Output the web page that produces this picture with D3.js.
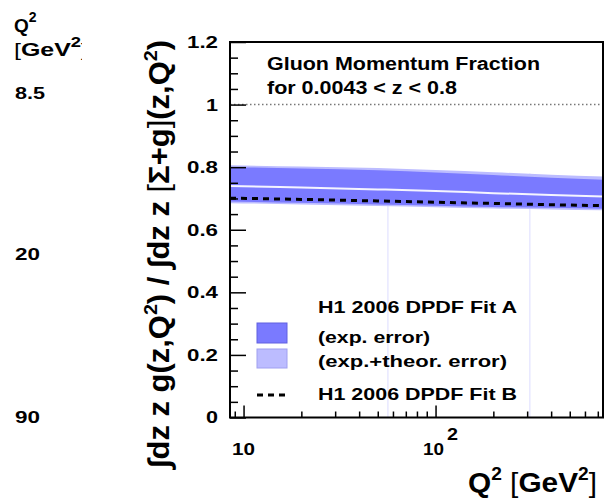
<!DOCTYPE html>
<html><head><meta charset="utf-8">
<script src="https://cdn.jsdelivr.net/npm/d3@7"></script>
<style>body{margin:0;background:#fff}svg{display:block}text{font-family:"Liberation Sans",Arial,sans-serif;font-weight:bold;fill:#000}</style>
</head><body><svg id="c" width="605" height="503"></svg>
<script>
// ---- data ----
const q2      = [8.5, 20, 50, 100, 200, 400, 745];
const outerHi = [0.806,0.802,0.797,0.791,0.784,0.776,0.770];
const innerHi = [0.800,0.796,0.790,0.783,0.775,0.766,0.760];
const central = [0.740,0.735,0.729,0.724,0.717,0.711,0.706];
const innerLo = [0.690,0.686,0.681,0.677,0.673,0.670,0.667];
const outerLo = [0.685,0.681,0.676,0.672,0.668,0.665,0.662];
const fitB    = [0.701,0.697,0.692,0.688,0.684,0.680,0.677];
const yMajor = [0,0.2,0.4,0.6,0.8,1.0,1.2];
const yMinor = [0.05,0.1,0.15,0.25,0.3,0.35,0.45,0.5,0.55,0.65,0.7,0.75,0.85,0.9,0.95,1.05,1.1,1.15];
const xMajor = [10,100];
const xMinor = [9,20,30,40,50,60,70,80,90,200,300,400,500,600,700];
const refQ2 = [56.5, 310];
const refTop = 0.78;
const unityLine = 1.0;
const binLabels = ["8.5","20","90"];
const legendLabels = ["H1 2006 DPDF Fit A","(exp. error)","(exp.+theor. error)","H1 2006 DPDF Fit B"];

// ---- helpers ----
function fitTo(sel, len){ sel.attr("textLength",len).attr("lengthAdjust","spacingAndGlyphs"); }
const digitLen = s => s.split("").reduce((a,c)=>a+(c==="."?7:12),0);

// ---- layout ----
const svg = d3.select("#c");
const L=230, R=603, T=42, B=417.5;
const x = d3.scaleLog().domain([8.5,745]).range([L,R]);
const y = d3.scaleLinear().domain([0,1.2]).range([B,T]);
const dark="#7a7aff", light="#bcbcff";

svg.append("rect").attr("width",605).attr("height",503).attr("fill","#fff");

const rows = q2.map((q,i)=>({q,oh:outerHi[i],ih:innerHi[i],c:central[i],il:innerLo[i],ol:outerLo[i],b:fitB[i]}));

// reference vertical lines
svg.selectAll("line.ref").data(refQ2).join("line").attr("class","ref")
  .attr("x1",d=>x(d)).attr("x2",d=>x(d)).attr("y1",y(0)).attr("y2",y(refTop))
  .attr("stroke","#dcdcff").attr("stroke-width",1);

// unity dotted line
svg.append("line").attr("x1",L).attr("x2",R).attr("y1",y(unityLine)).attr("y2",y(unityLine))
  .attr("stroke","#777").attr("stroke-width",1.5).attr("stroke-dasharray","1.5,2.5");

// bands
const areaO = d3.area().x(d=>x(d.q)).y0(d=>y(d.ol)).y1(d=>y(d.oh)).curve(d3.curveMonotoneX);
const areaI = d3.area().x(d=>x(d.q)).y0(d=>y(d.il)).y1(d=>y(d.ih)).curve(d3.curveMonotoneX);
svg.append("path").datum(rows).attr("d",areaO).attr("fill",light);
svg.append("path").datum(rows).attr("d",areaI).attr("fill",dark);
svg.append("path").datum(rows).attr("d",d3.line().x(d=>x(d.q)).y(d=>y(d.c)).curve(d3.curveMonotoneX))
  .attr("fill","none").attr("stroke","#f4f4ff").attr("stroke-width",2);
svg.append("path").datum(rows).attr("d",d3.line().x(d=>x(d.q)).y(d=>y(d.b)).curve(d3.curveMonotoneX))
  .attr("fill","none").attr("stroke","#000").attr("stroke-width",3).attr("stroke-dasharray","6,5");

// axes
const fmtY = d=>d===0?"0":d===1?"1":d3.format(".1f")(d);
const yAx = svg.append("g").attr("transform",`translate(${L},0)`)
  .call(d3.axisLeft(y).tickValues(yMajor).tickSize(-16).tickPadding(12).tickFormat(fmtY));
yAx.select(".domain").remove();
yAx.selectAll("line").attr("stroke","#000").attr("stroke-width",1.5);
yAx.selectAll("text").attr("font-size",17).attr("font-family",null).attr("fill","#000")
  .attr("textLength",d=>digitLen(fmtY(d))).attr("lengthAdjust","spacingAndGlyphs");
const yAxm = svg.append("g").attr("transform",`translate(${L},0)`)
  .call(d3.axisLeft(y).tickValues(yMinor).tickSize(-8).tickFormat(""));
yAxm.select(".domain").remove();
yAxm.selectAll("line").attr("stroke","#000").attr("stroke-width",1.5);

const xAx = svg.append("g").attr("transform",`translate(0,${B})`)
  .call(d3.axisBottom(x).tickValues(xMajor).tickSize(-12).tickFormat(""));
xAx.select(".domain").remove();
xAx.selectAll("line").attr("stroke","#000").attr("stroke-width",1.5);
const xAxm = svg.append("g").attr("transform",`translate(0,${B})`)
  .call(d3.axisBottom(x).tickValues(xMinor).tickSize(-6).tickFormat(""));
xAxm.select(".domain").remove();
xAxm.selectAll("line").attr("stroke","#000").attr("stroke-width",1.5);

// x tick labels
svg.append("text").attr("x",x(10)).attr("y",455).attr("text-anchor","middle").attr("font-size",17).text("10").call(fitTo,23);
svg.append("text").attr("x",x(100)-2).attr("y",455).attr("text-anchor","middle").attr("font-size",17).text("10").call(fitTo,21);
svg.append("text").attr("x",x(100)+17).attr("y",440).attr("text-anchor","middle").attr("font-size",17).text("2").call(fitTo,11);

// frame
svg.append("rect").attr("x",L).attr("y",T).attr("width",R-L).attr("height",B-T)
  .attr("fill","none").attr("stroke","#000").attr("stroke-width",2);

// x title
const xt = svg.append("text").attr("x",597).attr("y",492).attr("text-anchor","end").attr("font-size",28);
xt.append("tspan").text("Q");
xt.append("tspan").attr("font-size",18).attr("dy",-12).text("2");
xt.append("tspan").attr("dy",12).text(" ");
xt.append("tspan").attr("font-weight","normal").text("[");
xt.append("tspan").text("GeV");
xt.append("tspan").attr("font-size",18).attr("dy",-12).text("2");
xt.append("tspan").attr("dy",12).attr("font-weight","normal").text("]");
fitTo(xt,129);

// y title
const yt = svg.append("text").attr("transform","translate(169,254) rotate(-90)")
  .attr("text-anchor","middle").attr("font-size",30);
yt.append("tspan").text("∫dz z g(z,Q");
yt.append("tspan").attr("font-size",19).attr("dy",-12).text("2");
yt.append("tspan").attr("dy",12).text(") / ∫dz z ");
yt.append("tspan").attr("font-weight","normal").text("[");
yt.append("tspan").text("Σ+g");
yt.append("tspan").attr("font-weight","normal").text("]");
yt.append("tspan").text("(z,Q");
yt.append("tspan").attr("font-size",19).attr("dy",-12).text("2");
yt.append("tspan").attr("dy",12).text(")");
fitTo(yt,428);

// header text
svg.append("text").attr("x",267).attr("y",70).attr("font-size",18).text("Gluon Momentum Fraction").call(fitTo,273);
svg.append("text").attr("x",267).attr("y",94).attr("font-size",18).text("for 0.0043 < z < 0.8").call(fitTo,190);

// legend
const lx=257, lw=30;
svg.append("rect").attr("x",lx).attr("y",323).attr("width",lw).attr("height",20).attr("fill",dark).attr("stroke","#6060e0").attr("stroke-width",1);
svg.append("rect").attr("x",lx).attr("y",349).attr("width",lw).attr("height",19).attr("fill",light).attr("stroke","#a0a0f0").attr("stroke-width",1);
svg.append("line").attr("x1",lx).attr("x2",lx+lw).attr("y1",395).attr("y2",395).attr("stroke","#000").attr("stroke-width",3).attr("stroke-dasharray","6,5");
const ly=[313,343,367,400];
const lLen=[199,112,189,199];
legendLabels.forEach((t,i)=>svg.append("text").attr("x",318).attr("y",ly[i]).attr("font-size",17).text(t).call(fitTo,lLen[i]));

// left column (neighbouring panel)
svg.append("clipPath").attr("id","lc").append("rect").attr("x",0).attr("y",0).attr("width",82).attr("height",503);
const lc = svg.append("g").attr("clip-path","url(#lc)");
const qt = lc.append("text").attr("x",14).attr("y",32).attr("font-size",19);
qt.append("tspan").text("Q");
qt.append("tspan").attr("font-size",14).attr("dy",-10).text("2");
const gt = lc.append("text").attr("x",14).attr("y",56).attr("font-size",19);
gt.append("tspan").attr("font-weight","normal").text("[");
gt.append("tspan").text("GeV");
gt.append("tspan").attr("font-size",14).attr("dy",-9).text("2");
gt.append("tspan").attr("dy",9).attr("font-weight","normal").text("]");
fitTo(gt,74);
const blY=[99,260,423];
const blLen=[30,25,25];
binLabels.forEach((t,i)=>lc.append("text").attr("x",15).attr("y",blY[i]).attr("font-size",17).text(t).call(fitTo,blLen[i]));
</script></body></html>
